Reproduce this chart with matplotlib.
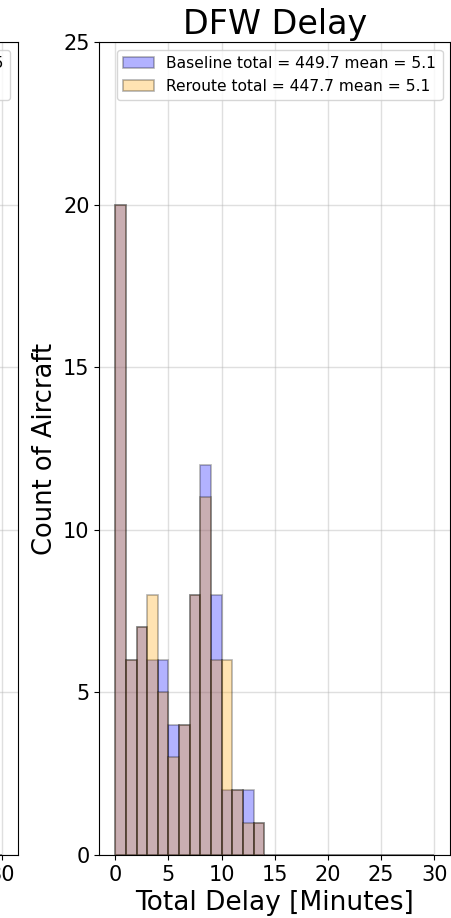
"""
Histogram of per-aircraft total delay at DFW, baseline vs reroute.
"""

import numpy as np
import matplotlib
matplotlib.use("Agg")
import matplotlib.pyplot as plt

# one-minute bins, 0..30 minutes
bin_edges = np.arange(0, 31)

# aircraft counts per bin (DFW)
dfw_baseline = [20, 6, 7, 6, 6, 4, 4, 8, 12, 8, 2, 2, 2, 1] + [0] * 16
dfw_reroute = [20, 6, 7, 8, 5, 3, 4, 8, 11, 6, 6, 2, 1, 1] + [0] * 16
dfw_labels = [
    "Baseline total = 449.7 mean = 5.1",
    "Reroute total = 447.7 mean = 5.1",
]

# neighbouring airport panel
ord_baseline = [14, 9, 8, 7, 6, 5, 5, 6, 7, 5, 3, 2, 1, 1] + [0] * 16
ord_reroute = [15, 9, 8, 6, 6, 5, 4, 6, 7, 4, 3, 2, 1, 1] + [0] * 16
ord_labels = [
    "Baseline total = 401.0 mean = 4.5",
    "Reroute total = 392.4 mean = 4.4",
]

plt.rcParams["font.family"] = "DejaVu Sans"

fig = plt.figure(figsize=(4.52, 9.18), dpi=100)
ax_ord = fig.add_axes([-0.7374, 0.0686, 0.7765, 0.8856])
ax_dfw = fig.add_axes([0.2197, 0.0686, 0.7765, 0.8856])


def draw_panel(ax, baseline, reroute, labels, title):
    centers = bin_edges[:-1] + 0.5
    ax.hist(centers, bins=bin_edges, weights=baseline, color="blue",
            alpha=0.3, edgecolor="black", linewidth=1.2, label=labels[0])
    ax.hist(centers, bins=bin_edges, weights=reroute, color="orange",
            alpha=0.3, edgecolor="black", linewidth=1.2, label=labels[1])
    ax.set_xlim(-1.5, 31.5)
    ax.set_ylim(0, 25)
    ax.set_xticks(range(0, 31, 5))
    ax.set_yticks(range(0, 26, 5))
    ax.grid(True, color="#b0b0b0", alpha=0.4, linewidth=1)
    ax.set_axisbelow(True)
    ax.tick_params(labelsize=15)
    ax.set_title(title, fontsize=24)
    ax.set_xlabel("Total Delay [Minutes]", fontsize=19)
    ax.set_ylabel("Count of Aircraft", fontsize=18.5)
    ax.legend(loc="upper right", fontsize=11.2)


draw_panel(ax_ord, ord_baseline, ord_reroute, ord_labels, "ORD Delay")
draw_panel(ax_dfw, dfw_baseline, dfw_reroute, dfw_labels, "DFW Delay")

fig.savefig("out.png", dpi=100)
